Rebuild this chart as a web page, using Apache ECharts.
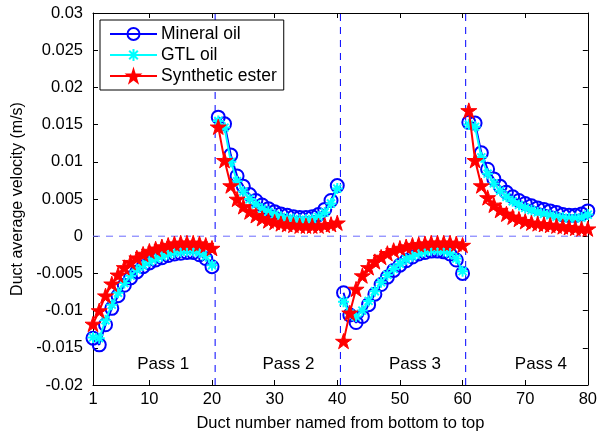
<!DOCTYPE html>
<html>
<head>
<meta charset="utf-8">
<script src="https://cdn.jsdelivr.net/npm/echarts@6/dist/echarts.min.js"></script>
<style>
html,body{margin:0;padding:0;background:#fff;}
#chart{width:600px;height:437px;}
</style>
</head>
<body>
<div id="chart"></div>
<script>
// ---- Data ----
var ducts = [];
for (var i = 1; i <= 80; i++) ducts.push(i);

var mineralOil = [
  -0.0137, -0.0146, -0.0119, -0.0097, -0.0080, -0.0066, -0.0056, -0.0048, -0.0041, -0.0036,
  -0.0032, -0.0029, -0.0026, -0.0024, -0.0023, -0.0022, -0.0022, -0.0025, -0.0030, -0.0041,
  0.0160, 0.0151, 0.0109, 0.0081, 0.0067, 0.0056, 0.0048, 0.0042, 0.0037, 0.0033,
  0.0030, 0.0028, 0.0026, 0.0025, 0.0025, 0.0026, 0.0029, 0.0036, 0.0048, 0.0068,
  -0.0076, -0.0106, -0.0116, -0.0108, -0.0092, -0.0078, -0.0065, -0.0055, -0.0046, -0.0039,
  -0.0033, -0.0028, -0.0024, -0.0022, -0.0020, -0.0020, -0.0021, -0.0024, -0.0032, -0.0050,
  0.0153, 0.0152, 0.0112, 0.0090, 0.0077, 0.0067, 0.0059, 0.0053, 0.0048, 0.0044,
  0.0041, 0.0038, 0.0036, 0.0034, 0.0032, 0.0029, 0.0028, 0.0028, 0.0030, 0.0034
];
var gtlOil = [
  -0.0136, -0.0137, -0.0113, -0.0092, -0.0076, -0.0063, -0.0053, -0.0045, -0.0039, -0.0034,
  -0.0030, -0.0027, -0.0024, -0.0022, -0.0021, -0.0020, -0.0020, -0.0022, -0.0027, -0.0039,
  0.0155, 0.0146, 0.0100, 0.0074, 0.0060, 0.0050, 0.0043, 0.0037, 0.0033, 0.0029,
  0.0026, 0.0024, 0.0023, 0.0022, 0.0022, 0.0023, 0.0026, 0.0032, 0.0044, 0.0064,
  -0.0088, -0.0104, -0.0108, -0.0100, -0.0087, -0.0074, -0.0062, -0.0052, -0.0044, -0.0037,
  -0.0031, -0.0027, -0.0023, -0.0021, -0.0019, -0.0019, -0.0020, -0.0023, -0.0030, -0.0047,
  0.0150, 0.0147, 0.0106, 0.0084, 0.0071, 0.0061, 0.0053, 0.0047, 0.0042, 0.0038,
  0.0035, 0.0032, 0.0030, 0.0028, 0.0026, 0.0025, 0.0024, 0.0024, 0.0025, 0.0029
];
var syntheticEster = [
  -0.0118, -0.0100, -0.0080, -0.0064, -0.0052, -0.0042, -0.0035, -0.0029, -0.0024, -0.0020,
  -0.0017, -0.0014, -0.0012, -0.0010, -0.0009, -0.0009, -0.0009, -0.0010, -0.0012, -0.0016,
  0.0147, 0.0102, 0.0068, 0.0050, 0.0040, 0.0033, 0.0028, 0.0024, 0.0021, 0.0019,
  0.0017, 0.0016, 0.0015, 0.0014, 0.0014, 0.0014, 0.0014, 0.0015, 0.0016, 0.0018,
  -0.0141, -0.0103, -0.0071, -0.0053, -0.0042, -0.0034, -0.0028, -0.0023, -0.0019, -0.0016,
  -0.0014, -0.0012, -0.0011, -0.0010, -0.0009, -0.0009, -0.0009, -0.0009, -0.0010, -0.0012,
  0.0169, 0.0102, 0.0068, 0.0052, 0.0042, 0.0035, 0.0030, 0.0026, 0.0023, 0.0020,
  0.0018, 0.0017, 0.0016, 0.0015, 0.0014, 0.0013, 0.0012, 0.0011, 0.0010, 0.0010
];

var seriesNames = ['Mineral oil', 'GTL oil', 'Synthetic ester'];
var passStarts = [1, 21, 41, 61];
var passLength = 20;
var passDividers = [20.5, 40.5, 60.5];
var passLabels = ['Pass 1', 'Pass 2', 'Pass 3', 'Pass 4'];
var passLabelX = [12.2, 32.2, 52.4, 72.5];
var passLabelY = [-0.0172, -0.0172, -0.0172, -0.0172];

var xRange = [1, 80];
var yRange = [-0.02, 0.03];
var xTicks = [1, 10, 20, 30, 40, 50, 60, 70, 80];
var yTicks = [-0.02, -0.015, -0.01, -0.005, 0, 0.005, 0.01, 0.015, 0.02, 0.025, 0.03];

// ---- Styles ----
var FONT = "'Liberation Sans', Arial, Helvetica, sans-serif";
var STAR = 'path://M0,-1L0.2245,-0.309L0.951,-0.309L0.363,0.118L0.588,0.809L0,0.382L-0.588,0.809L-0.363,0.118L-0.951,-0.309L-0.2245,-0.309Z';
var ASTER = 'path://M0,-1L0,1M-1,0L1,0M-0.72,-0.72L0.72,0.72M-0.72,0.72L0.72,-0.72';

var styles = [
  { color: '#0000FF', symbol: 'circle', size: 13,
    itemStyle: { color: 'rgba(0,0,0,0)', borderColor: '#0000FF', borderWidth: 2 } },
  { color: '#00FFFF', symbol: ASTER, size: 11,
    itemStyle: { color: '#00FFFF', borderColor: '#00FFFF', borderWidth: 2 } },
  { color: '#FF0000', symbol: STAR, size: 16,
    itemStyle: { color: '#FF0000', borderColor: '#FF0000', borderWidth: 1 } }
];
var allValues = [mineralOil, gtlOil, syntheticEster];

var series = [];

// Divider lines (vertical, dashed blue) and zero line
passDividers.forEach(function (v) {
  series.push({
    type: 'line', silent: true, z: 2, symbol: 'none',
    data: [[v, yRange[0]], [v, yRange[1]]],
    lineStyle: { color: '#0000FF', type: [7, 6], width: 1 },
    itemStyle: { color: '#0000FF' },
    emphasis: { disabled: true }
  });
});
series.push({
  type: 'line', silent: true, z: 2, symbol: 'none',
  data: [[xRange[0], 0], [xRange[1], 0]],
  lineStyle: { color: '#6a6aff', type: [7, 6], width: 1 },
  itemStyle: { color: '#6a6aff' },
  emphasis: { disabled: true }
});

for (var s = 0; s < 3; s++) {
  for (var p = 0; p < passStarts.length; p++) {
    var d = [];
    for (var k = 0; k < passLength; k++) {
      var idx = passStarts[p] - 1 + k;
      d.push([ducts[idx], allValues[s][idx]]);
    }
    series.push({
      name: seriesNames[s],
      type: 'line',
      data: d,
      symbol: styles[s].symbol,
      symbolSize: styles[s].size,
      symbolKeepAspect: true,
      showAllSymbol: true,
      lineStyle: { color: styles[s].color, width: 2 },
      itemStyle: styles[s].itemStyle,
      z: 3 + s,
      emphasis: { disabled: true }
    });
  }
}

// Pass labels
series.push({
  type: 'scatter', silent: true, symbolSize: 0, z: 10,
  itemStyle: { opacity: 1 },
  data: passLabels.map(function (t, i) { return { name: t, value: [passLabelX[i], passLabelY[i]] }; }),
  label: { show: true, position: 'inside', formatter: '{b}', color: '#000', opacity: 1,
    textBorderWidth: 0, fontSize: 17, fontFamily: FONT }
});

var axisCommon = {
  axisLine: { show: true, onZero: false, lineStyle: { color: '#000', width: 1 } },
  splitLine: { show: false }
};

var option = {
  animation: false,
  backgroundColor: '#fff',
  grid: { left: 93, right: 12, top: 13, bottom: 47, containLabel: false },
  legend: {
    data: seriesNames,
    orient: 'vertical',
    left: 100, top: 20,
    itemWidth: 47, itemHeight: 15, itemGap: 3,
    padding: [5, 7, 5, 9],
    backgroundColor: '#fff',
    borderColor: '#000', borderWidth: 1, borderRadius: 0,
    textStyle: { fontSize: 17.5, fontFamily: FONT, color: '#000', padding: [0, 0, 0, -1] }
  },
  xAxis: [
    Object.assign({
      type: 'value', min: xRange[0], max: xRange[1], position: 'bottom',
      name: 'Duct number named from bottom to top', nameLocation: 'middle', nameGap: 30,
      nameTextStyle: { fontSize: 16.5, fontFamily: FONT, color: '#000' },
      axisTick: { show: true, inside: true, length: 5, customValues: xTicks, lineStyle: { color: '#000' } },
      axisLabel: { show: true, customValues: xTicks, margin: 6, fontSize: 16.5, fontFamily: FONT, color: '#000' }
    }, axisCommon),
    Object.assign({
      type: 'value', min: xRange[0], max: xRange[1], position: 'top',
      axisTick: { show: true, inside: true, length: 5, customValues: xTicks, lineStyle: { color: '#000' } },
      axisLabel: { show: false, customValues: xTicks }
    }, axisCommon)
  ],
  yAxis: [
    Object.assign({
      type: 'value', min: yRange[0], max: yRange[1], interval: 0.005, position: 'left',
      name: 'Duct average velocity (m/s)', nameLocation: 'middle', nameGap: 66,
      nameTextStyle: { fontSize: 16, fontFamily: FONT, color: '#000' },
      axisTick: { show: true, inside: true, length: 5, customValues: yTicks, lineStyle: { color: '#000' } },
      axisLabel: { show: true, customValues: yTicks, margin: 10, fontSize: 16.5, fontFamily: FONT, color: '#000',
        formatter: function (v) { return String(+v.toFixed(3)); } }
    }, axisCommon),
    Object.assign({
      type: 'value', min: yRange[0], max: yRange[1], interval: 0.005, position: 'right',
      axisTick: { show: true, inside: true, length: 5, customValues: yTicks, lineStyle: { color: '#000' } },
      axisLabel: { show: false, customValues: yTicks }
    }, axisCommon)
  ],
  series: series
};

var chart = echarts.init(document.getElementById('chart'), null, { renderer: 'canvas' });
chart.setOption(option);
</script>
</body>
</html>
